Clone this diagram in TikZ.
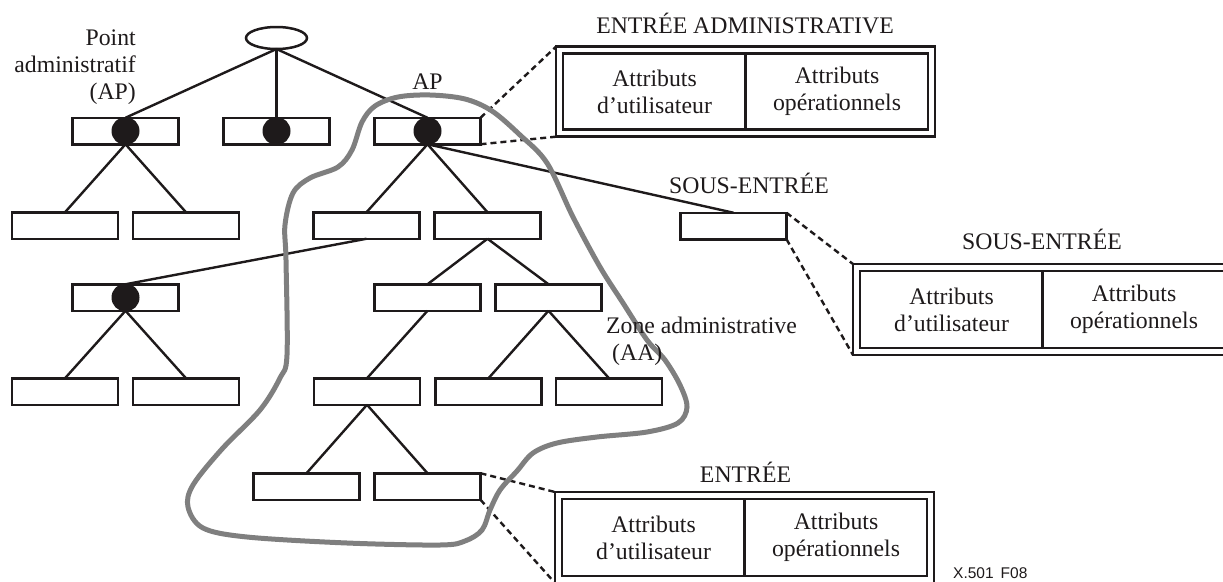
\documentclass[tikz,border=0pt]{standalone}
\usepackage{fontspec}
\setmainfont{Liberation Serif}
\newfontfamily\figsans{Liberation Sans}
\usetikzlibrary{shapes.geometric}
\definecolor{ink}{HTML}{1E1A1B}
\definecolor{zonegray}{HTML}{7F7F7F}
\begin{document}
\begin{tikzpicture}[x=1pt,y=-1pt,
  every node/.style={font=\fontsize{23.75}{27}\selectfont, text=ink},
  entrybox/.style={draw=ink, fill=white, rectangle, line width=2.5pt,
    minimum width=106pt, minimum height=26.5pt, inner sep=0pt, outer sep=0pt},
  apdot/.style={circle, fill=ink, minimum size=28pt, inner sep=0pt, outer sep=0pt},
  rootnode/.style={draw=ink, ellipse, line width=2.5pt, minimum width=61pt,
    minimum height=22pt, inner sep=0pt, outer sep=0pt},
  frame/.style={draw=ink, rectangle, line width=2.6pt, minimum width=379pt,
    minimum height=90pt, inner sep=0pt, outer sep=0pt},
  cell/.style={draw=ink, line width=2.6pt},
  celltext/.style={align=center, inner sep=0pt},
  tree/.style={draw=ink, line width=2.4pt},
  link/.style={draw=ink, line width=2.4pt, dash pattern=on 6pt off 4pt},
  zone/.style={draw=zonegray, line width=5pt},
  caption/.style={inner sep=0pt}
]
\useasboundingbox (0,0) rectangle (1223,581);

% directory information tree
\node[rootnode] (root) at (276.5,38) {};
\node[entrybox] (a1) at (125.5,131) {};
\node[entrybox] (a2) at (276.5,131) {};
\node[entrybox] (a3) at (427.5,131) {};
\node[entrybox] (b1) at (65,225.5) {};
\node[entrybox] (b2) at (186,225.5) {};
\node[entrybox] (b3) at (366.5,225.5) {};
\node[entrybox] (b4) at (487.5,225.5) {};
\node[entrybox] (c1) at (125.5,297.5) {};
\node[entrybox] (c2) at (427.5,297.5) {};
\node[entrybox] (c3) at (548.5,297.5) {};
\node[entrybox] (d1) at (65,391.5) {};
\node[entrybox] (d2) at (186,391.5) {};
\node[entrybox] (d3) at (367,391.5) {};
\node[entrybox] (d4) at (488.5,391.5) {};
\node[entrybox] (d5) at (609,391.5) {};
\node[entrybox] (e1) at (306.5,486.5) {};
\node[entrybox] (e2) at (427.5,486.5) {};
\node[entrybox] (s1) at (733.5,226) {};

% tree edges
\draw[tree] (root.south) -- (a1.north);
\draw[tree] (root.south) -- (a2.north);
\draw[tree] (root.south) -- (a3.north);
\draw[tree] (a1.south) -- (b1.north);
\draw[tree] (a1.south) -- (b2.north);
\draw[tree] (a3.south) -- (b3.north);
\draw[tree] (a3.south) -- (b4.north);
\draw[tree] (a3.south) -- (s1.north);
\draw[tree] (b3.south) -- (c1.north);
\draw[tree] (b4.south) -- (c2.north);
\draw[tree] (b4.south) -- (c3.north);
\draw[tree] (c1.south) -- (d1.north);
\draw[tree] (c1.south) -- (d2.north);
\draw[tree] (c2.south) -- (d3.north);
\draw[tree] (c3.south) -- (d4.north);
\draw[tree] (c3.south) -- (d5.north);
\draw[tree] (d3.south) -- (e1.north);
\draw[tree] (d3.south) -- (e2.north);

% administrative points
\node[apdot] (p1) at (a1) {};
\node[apdot] (p2) at (a2) {};
\node[apdot] (p3) at (a3) {};
\node[apdot] (p4) at (c1) {};

% expanded entries
\node[frame] (adm) at (745.5,91.7) {};
\node[frame, minimum height=91pt] (sub) at (1042.5,309.5) {};
\node[frame, minimum height=91pt] (ent) at (744.5,537.5) {};
\foreach \f in {adm,sub,ent}{
  \draw[cell] ([shift={(7,7)}]\f.north west) rectangle ([shift={(-7,-7)}]\f.south east);
  \draw[cell] ([shift={(0,7)}]\f.north) -- ([shift={(0,-7)}]\f.south);
  \node[celltext] (\f-user) at ([xshift=-91pt]\f.center) {Attributs\\d’utilisateur};
  \node[celltext] (\f-oper) at ([xshift=91.5pt]\f.center) {Attributs\\opérationnels};
}

% expansion links
\draw[link] (a3.north east) -- (adm.north west);
\draw[link] (a3.south east) -- (adm.south west);
\draw[link] (s1.north east) -- (sub.north west);
\draw[link] (s1.south east) -- (sub.south west);
\draw[link] (e2.north east) -- (ent.north west);
\draw[link] (e2.south east) -- (ent.south west);

% administrative area boundary
\draw[zone] plot[smooth cycle, tension=0.55] coordinates {
  (430,95) (465,99) (492,111) (520,135) (547,163) (573,217) (600,267)
  (623,303) (647,340) (665,360) (680,385) (687,407) (678,423) (647,432)
  (597,437) (557,443) (533,453) (517,471) (500,490) (490,510) (482,530)
  (465,541) (440,545) (347,543) (247,537) (203,528) (188,507) (193,485)
  (222,449) (260,410) (280,378) (287,355) (286,260) (285,225) (293,193)
  (310,178) (338,167) (352,150) (362,122) (375,106) (398,97)};

% captions (multi-line captions are placed by the baseline of their last line)
\node[caption, anchor=base east, align=right] (aplabel) at (136,99) {Point\\administratif\\(AP)};
\node[caption, anchor=base] (aplabel2) at (427.5,89) {AP};
\node[caption, anchor=base] (admtitle) at (745,33) {ENTRÉE ADMINISTRATIVE};
\node[caption, anchor=base] (subtitle) at (749,193) {SOUS-ENTRÉE};
\node[caption, anchor=base] (subtitle2) at (1042,249) {SOUS-ENTRÉE};
\node[caption, anchor=base] (enttitle) at (745.5,482) {ENTRÉE};
\node[caption, anchor=base west, align=left] (zonelabel) at (606,360) {Zone administrative\\\hspace*{6pt}(AA)};
\node[caption, anchor=base west, font=\figsans\fontsize{15.5}{18}\selectfont] (figid) at (953,578) {X.501\hspace{7pt}F08};
\end{tikzpicture}
\end{document}
